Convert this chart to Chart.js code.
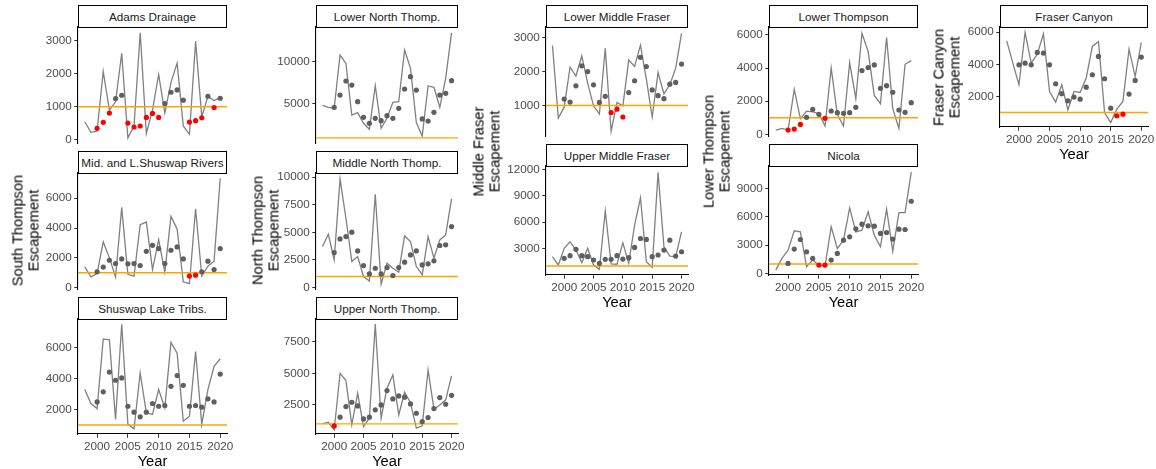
<!DOCTYPE html>
<html>
<head>
<meta charset="utf-8">
<script src="https://cdn.jsdelivr.net/npm/chart.js@4.4.1/dist/chart.umd.min.js"></script>
<style>
  html, body { margin: 0; padding: 0; background: #ffffff; }
  body { width: 1156px; height: 469px; overflow: hidden; position: relative;
         font-family: "Liberation Sans", Arial, sans-serif; }
  canvas.panel { position: absolute; }
  .strip { position: absolute; box-sizing: border-box; border: 1.3px solid #000; background: #fff;
           font-size: 11.7px; color: #1a1a1a; display: flex; align-items: center; justify-content: center;
           white-space: nowrap; overflow: hidden; }
  .ytitle { position: absolute; width: 220px; height: 31px; transform: rotate(-90deg); text-align: center;
            font-size: 14.7px; line-height: 15.5px; color: #000; white-space: nowrap; }
</style>
</head>
<body>
<script>
// ---------------- DATA ----------------
const years    = [1998,1999,2000,2001,2002,2003,2004,2005,2006,2007,2008,2009,2010,2011,2012,2013,2014,2015,2016,2017,2018,2019,2020];
const avgYears = [2000,2001,2002,2003,2004,2005,2006,2007,2008,2009,2010,2011,2012,2013,2014,2015,2016,2017,2018,2019,2020];
const threshold = 1000;
const xTicks = [2000,2005,2010,2015,2020];

const adamsAnnual = [550,230,270,2070,900,1150,2620,60,420,3240,190,900,1980,810,1740,2320,420,170,2980,700,1310,1190,1280];
const adamsAvg    = [350,530,810,1250,1350,510,390,420,680,800,680,1100,1440,1510,1200,540,580,670,1320,980,1260];
const adamsTicks  = [0,1000,2000,3000];

const midShuswapAnnual = [1400,730,950,3070,2000,720,5380,900,780,4220,4400,1220,3220,1040,4780,3930,400,270,5290,780,1440,1780,7330];
const midShuswapAvg    = [1070,1380,1840,1620,1930,1600,1620,1490,2440,2840,2620,1620,2510,2730,1930,780,840,1070,1780,1220,2620];
const midShuswapTicks  = [0,2000,4000,6000];

const shuswapLakeAnnual = [3290,2390,2060,6560,6500,1360,7510,1040,760,4360,1790,1680,3290,2110,6330,5640,1250,1570,5750,1040,3290,4790,5280];
const shuswapLakeAvg    = [2490,3140,4420,3890,4040,2210,1830,1530,1830,2390,2210,2260,3500,4190,3560,2210,2260,2150,2690,2490,4290];
const shuswapLakeTicks  = [2000,4000,6000];

const lowerNorthAnnual = [4840,4610,4490,10790,9800,3700,3980,2720,2010,7170,2130,3310,5200,5280,11380,9210,2800,1220,7130,6970,4610,8030,13400];
const lowerNorthAvg    = [4610,6060,7720,7240,5280,3430,2720,3310,3030,3620,3310,4490,6770,8230,6650,3230,2990,4020,6060,6260,7760];
const lowerNorthTicks  = [5000,10000];

const middleNorthAnnual = [3720,4830,2510,9850,6280,2360,2810,1000,600,8460,300,2210,1750,1390,4680,4170,1900,1150,4620,2660,4320,4770,8040];
const middleNorthAvg    = [3170,4410,4620,5020,3320,1990,1240,1750,1240,1810,1090,1810,2300,2960,3320,2050,2150,2420,3810,3870,5530];
const middleNorthTicks  = [0,2500,5000,7500,10000];

const upperNorthAnnual = [1000,1130,530,5000,4420,920,3420,790,1450,8900,1450,3820,4870,1710,3500,2680,660,840,5260,2160,2500,2900,4790];
const upperNorthAvg    = [840,1530,2370,2710,2420,1390,1530,2110,2500,3630,2970,3210,3110,2580,1840,1180,1500,2210,3080,2550,3260];
const upperNorthTicks  = [2500,5000,7500];

const lowerMidFraserAnnual = [2770,630,950,2130,1870,2460,1660,990,750,2690,240,1090,990,2340,2150,2780,1780,660,1970,1340,1610,2100,3130];
const lowerMidFraserAvg    = [1190,1100,1580,2170,2000,1610,1090,1270,790,890,660,1380,1730,2420,2150,1460,1290,1200,1630,1680,2220];
const lowerMidFraserTicks  = [1000,2000,3000];

const upperMidFraserAnnual = [2060,1110,3000,3760,2810,1380,3000,1110,620,7270,1230,1190,3640,1300,5640,8770,1490,850,11680,3190,2130,2060,4890];
const upperMidFraserAvg    = [1870,2170,2890,2170,2060,1680,1300,1760,1760,2170,1790,1940,3110,4130,4020,2060,2250,2810,3940,2130,2620];
const upperMidFraserTicks  = [3000,6000,9000,12000];

const lowerThompsonAnnual = [260,360,260,2720,950,1400,1350,1250,500,4000,1200,500,4330,2150,6100,5000,2350,1850,5850,1550,350,4230,4450];
const lowerThompsonAvg    = [260,320,600,1030,1510,1210,970,1410,1310,1270,1310,1630,3850,4030,4190,2780,2940,2540,1470,1330,1910];
const lowerThompsonTicks  = [0,2000,4000,6000];

const nicolaAnnual = [350,1590,2470,4520,4410,710,1410,880,780,4940,2650,3530,6950,4410,4590,6530,4060,2820,6810,2360,6460,6460,10760];
const nicolaAvg    = [1060,2580,3600,2290,1590,880,880,1410,2120,3530,3880,4730,5220,5050,5010,4240,4340,3640,4690,4660,7660];
const nicolaTicks  = [0,3000,6000,9000];

const fraserCanyonAnnual = [5460,4070,2730,5980,4070,4630,5900,2310,1650,2730,1170,2310,2250,3140,5110,5420,1000,380,1210,1690,4940,3240,5360];
const fraserCanyonAvg    = [3970,4070,3970,4740,4700,3970,2790,2170,1730,1960,1830,2580,3350,4490,3100,1270,800,900,2150,3000,4450];
const fraserCanyonTicks  = [2000,4000,6000];

// ---------------- LAYOUT ----------------
// box: [plotLeft, plotRight, plotTop, plotBottom], strip: strip top
const panels = [
  {title:'Adams Drainage',            annual:adamsAnnual,          avg:adamsAvg,          ticks:adamsTicks,          yMin:-94,  yMax:3414,  box:[78,227,27,143],    strip:5,   xAxis:false},
  {title:'Mid. and L.Shuswap Rivers', annual:midShuswapAnnual,     avg:midShuswapAvg,     ticks:midShuswapTicks,     yMin:-86,  yMax:7686,  box:[78,227,173,289],   strip:151, xAxis:false},
  {title:'Shuswap Lake Tribs.',       annual:shuswapLakeAnnual,    avg:shuswapLakeAvg,    ticks:shuswapLakeTicks,    yMin:420,  yMax:7844,  box:[78,227,319,434],   strip:297, xAxis:true},
  {title:'Lower North Thomp.',        annual:lowerNorthAnnual,     avg:lowerNorthAvg,     ticks:lowerNorthTicks,     yMin:390,  yMax:14100, box:[316,458,27,143],   strip:5,   xAxis:false},
  {title:'Middle North Thomp.',       annual:middleNorthAnnual,    avg:middleNorthAvg,    ticks:middleNorthTicks,    yMin:-130, yMax:10380, box:[316,458,173,289],  strip:151, xAxis:false},
  {title:'Upper North Thomp.',        annual:upperNorthAnnual,     avg:upperNorthAvg,     ticks:upperNorthTicks,     yMin:200,  yMax:9290,  box:[316,458,319,434],  strip:297, xAxis:true},
  {title:'Lower Middle Fraser',       annual:lowerMidFraserAnnual, avg:lowerMidFraserAvg, ticks:lowerMidFraserTicks, yMin:100,  yMax:3315,  box:[546,688,27,136],   strip:5,   xAxis:false},
  {title:'Upper Middle Fraser',       annual:upperMidFraserAnnual, avg:upperMidFraserAvg, ticks:upperMidFraserTicks, yMin:-30,  yMax:12390, box:[546,688,166,275],  strip:144, xAxis:true},
  {title:'Lower Thompson',            annual:lowerThompsonAnnual,  avg:lowerThompsonAvg,  ticks:lowerThompsonTicks,  yMin:-100, yMax:6480,  box:[769,918,27,136],   strip:5,   xAxis:false},
  {title:'Nicola',                    annual:nicolaAnnual,         avg:nicolaAvg,         ticks:nicolaTicks,         yMin:-170, yMax:11400, box:[769,918,166,275],  strip:144, xAxis:true},
  {title:'Fraser Canyon',             annual:fraserCanyonAnnual,   avg:fraserCanyonAvg,   ticks:fraserCanyonTicks,   yMin:100,  yMax:6320,  box:[1000,1148,27,127], strip:5,   xAxis:true}
];

const yTitles = [
  {lines:['South Thompson','Escapement'], cx:25.8,  cy:230.5},
  {lines:['North Thompson','Escapement'], cx:265.5, cy:230.5},
  {lines:['Middle Fraser','Escapement'],  cx:487,   cy:151},
  {lines:['Lower Thompson','Escapement'], cx:717,   cy:151},
  {lines:['Fraser Canyon','Escapement'],  cx:947,   cy:77}
];

// ---------------- STYLE ----------------
const FONT = '"Liberation Sans", Arial, sans-serif';
const C_LINE = '#808080', C_PT = '#5f5f5f', C_LOW = '#ff0000', C_REF = '#ffa500';
const C_TICKTXT = '#4d4d4d';
const X_MIN = 1996.9, X_MAX = 2021.1;
const PADL = 10, YAXW = 60, PADT = 10, PADR = 28, PADB = 10, XAXH = 37, PADB_X = 3;

Chart.defaults.font.family = FONT;
Chart.defaults.animation = false;

const refLinePlugin = {
  id: 'refLine',
  afterDatasetDraw(chart, args, opts) {
    if (chart.data.datasets[args.index].label !== 'annual') return;
    const {ctx, chartArea, scales} = chart;
    const y = scales.y.getPixelForValue(opts.value);
    ctx.save();
    ctx.strokeStyle = opts.color;
    ctx.lineWidth = opts.width;
    ctx.beginPath();
    ctx.moveTo(chartArea.left, y);
    ctx.lineTo(chartArea.right, y);
    ctx.stroke();
    ctx.restore();
  }
};

function makePanel(p) {
  const [L, R, T, B] = p.box;
  const cw = (R - L) + PADL + YAXW + PADR;
  const ch = (B - T) + PADT + (p.xAxis ? XAXH + PADB_X : PADB);
  const cv = document.createElement('canvas');
  cv.className = 'panel';
  cv.width = cw; cv.height = ch;
  cv.style.width = cw + 'px'; cv.style.height = ch + 'px';
  cv.style.left = (L - PADL - YAXW) + 'px';
  cv.style.top = (T - PADT) + 'px';
  document.body.appendChild(cv);

  const strip = document.createElement('div');
  strip.className = 'strip';
  strip.textContent = p.title;
  strip.style.left = L + 'px';
  strip.style.width = (R - L) + 'px';
  strip.style.top = p.strip + 'px';
  strip.style.height = (T - p.strip + 0.6) + 'px';
  document.body.appendChild(strip);

  const lineData = years.map((yr, i) => ({x: yr, y: p.annual[i]}));
  const ptData = avgYears.map((yr, i) => ({x: yr, y: p.avg[i]}));
  const ptColors = p.avg.map(v => v < threshold ? C_LOW : C_PT);

  new Chart(cv, {
    type: 'line',
    data: {
      datasets: [
        {label: 'avg', data: ptData, showLine: false, order: 1,
         pointRadius: 2.6, pointHoverRadius: 2.6, pointBorderWidth: 0,
         pointBackgroundColor: ptColors, pointBorderColor: ptColors},
        {label: 'annual', data: lineData, order: 2, borderColor: C_LINE, borderWidth: 1.3,
         pointRadius: 0, tension: 0, fill: false}
      ]
    },
    options: {
      responsive: false,
      animation: false,
      events: [],
      layout: {padding: {left: PADL, top: PADT, right: PADR, bottom: p.xAxis ? PADB_X : PADB}},
      plugins: {
        legend: {display: false}, tooltip: {enabled: false}, title: {display: false},
        refLine: {value: threshold, color: C_REF, width: 1.4}
      },
      scales: {
        x: {
          type: 'linear', min: X_MIN, max: X_MAX, display: p.xAxis,
          afterBuildTicks: s => { s.ticks = xTicks.map(v => ({value: v})); },
          afterFit: s => { if (p.xAxis) { s.height = XAXH; } else { s.height = 0; } s.paddingLeft = 0; s.paddingRight = 0; },
          grid: {display: true, drawOnChartArea: false, drawTicks: true, tickLength: 3.7, color: '#333333', lineWidth: 1},
          border: {display: true, color: '#000000', width: 1.1},
          ticks: {autoSkip: false, maxRotation: 0, minRotation: 0, padding: 2, color: C_TICKTXT,
                  font: {size: 11.7, family: FONT}, callback: v => String(v)},
          title: {display: true, text: 'Year', color: '#000000', font: {size: 14.7, family: FONT}, padding: {top: 0, bottom: 0}}
        },
        y: {
          type: 'linear', min: p.yMin, max: p.yMax,
          afterBuildTicks: s => { s.ticks = p.ticks.map(v => ({value: v})); },
          afterFit: s => { s.width = YAXW; s.paddingTop = 0; s.paddingBottom = 0; },
          grid: {display: true, drawOnChartArea: false, drawTicks: true, tickLength: 3.7, color: '#333333', lineWidth: 1},
          border: {display: true, color: '#000000', width: 1.1},
          ticks: {autoSkip: false, padding: 2.5, color: C_TICKTXT, font: {size: 11.7, family: FONT},
                  callback: v => String(v)}
        }
      }
    },
    plugins: [refLinePlugin]
  });
}

panels.forEach(makePanel);

yTitles.forEach(t => {
  const d = document.createElement('div');
  d.className = 'ytitle';
  d.innerHTML = t.lines.map(s => '<div>' + s + '</div>').join('');
  d.style.left = (t.cx - 110) + 'px';
  d.style.top = (t.cy - 15.5) + 'px';
  document.body.appendChild(d);
});
</script>
</body>
</html>
